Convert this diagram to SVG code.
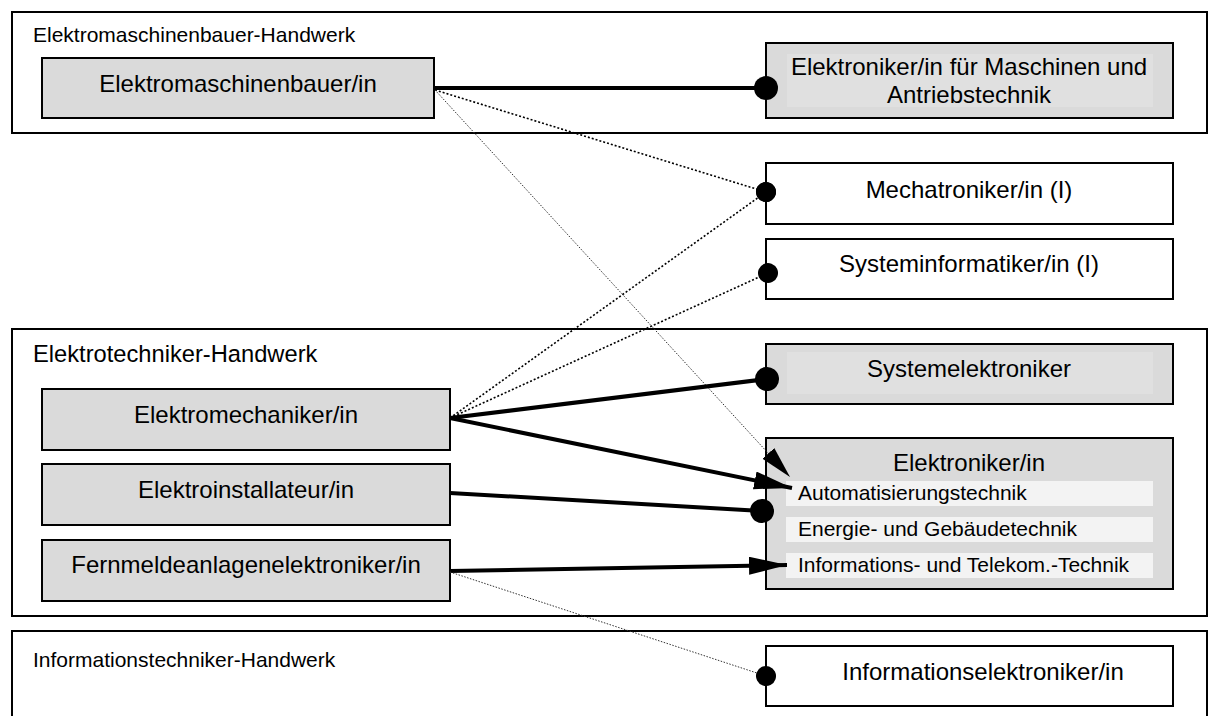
<svg xmlns="http://www.w3.org/2000/svg" width="1208" height="716" viewBox="0 0 1208 716">
<defs>
<style>
text{font-family:"Liberation Sans",Arial,sans-serif;fill:#000}
.grp{fill:#fff;stroke:#000;stroke-width:2}
.box{fill:#dadada;stroke:#000;stroke-width:2}
.wbox{fill:#fff;stroke:#000;stroke-width:2}
.inner{fill:#e0e0e0}
.row{fill:#f3f3f3}
.glabel{font-size:21px}
.glabel2{font-size:23.7px}
.t{font-size:24px;text-anchor:middle}
.s{font-size:21px}
.solid{stroke:#000;stroke-width:4;fill:none}
.dot1{stroke:#000;stroke-width:1.6;stroke-dasharray:2 2;fill:none}
.dot2{stroke:#333;stroke-width:1;stroke-dasharray:1.5 1.5;fill:none}
</style>
<marker id="dotL" markerUnits="userSpaceOnUse" markerWidth="26" markerHeight="26" refX="13" refY="13" orient="auto"><circle cx="13" cy="13" r="12" fill="#000"/></marker>
<marker id="dotS" markerUnits="userSpaceOnUse" markerWidth="22" markerHeight="22" refX="11" refY="11" orient="auto"><circle cx="11" cy="11" r="10" fill="#000"/></marker>
<marker id="arrL" markerUnits="userSpaceOnUse" markerWidth="40" markerHeight="20" refX="38" refY="9" orient="auto"><path d="M0,0 L38,9 L0,18 z" fill="#000"/></marker>
<marker id="arrS" markerUnits="userSpaceOnUse" markerWidth="34" markerHeight="18" refX="32" refY="8" orient="auto"><path d="M0,0 L32,8 L0,16 z" fill="#000"/></marker>
</defs>

<g id="group-elektromaschinenbauer-handwerk">
<rect class="grp" x="12" y="12" width="1195" height="121"/>
<text class="glabel" x="33" y="42">Elektromaschinenbauer-Handwerk</text>
</g>
<g id="group-elektrotechniker-handwerk">
<rect class="grp" x="12" y="329" width="1195" height="287"/>
<text class="glabel2" x="33" y="362">Elektrotechniker-Handwerk</text>
</g>
<g id="group-informationstechniker-handwerk">
<rect class="grp" x="12" y="631" width="1195" height="120"/>
<text class="glabel" x="33" y="667">Informationstechniker-Handwerk</text>
</g>

<g id="node-elektromaschinenbauer">
<rect class="box" x="42" y="58" width="392" height="60"/>
<text class="t" x="238" y="92">Elektromaschinenbauer/in</text>
</g>
<g id="node-elektroniker-maschinen">
<rect class="box" x="766" y="43" width="407" height="75"/>
<rect class="inner" x="787" y="54" width="366" height="53"/>
<text class="t" x="969" y="75">Elektroniker/in für Maschinen und</text>
<text class="t" x="969" y="103">Antriebstechnik</text>
</g>
<g id="node-mechatroniker">
<rect class="wbox" x="766" y="163" width="407" height="61"/>
<text class="t" x="969" y="198">Mechatroniker/in (I)</text>
</g>
<g id="node-systeminformatiker">
<rect class="wbox" x="766" y="239" width="407" height="60"/>
<text class="t" x="969" y="272">Systeminformatiker/in (I)</text>
</g>
<g id="node-systemelektroniker">
<rect class="box" x="766" y="344" width="407" height="60"/>
<rect class="inner" x="787" y="352" width="366" height="42"/>
<text class="t" x="969" y="377">Systemelektroniker</text>
</g>
<g id="node-elektroniker">
<rect class="box" x="766" y="438" width="407" height="151"/>
<text class="t" x="969" y="471">Elektroniker/in</text>
<rect class="row" x="786" y="481" width="367" height="25"/>
<text class="s" x="798" y="500">Automatisierungstechnik</text>
<rect class="row" x="786" y="517" width="367" height="25"/>
<text class="s" x="798" y="536">Energie- und Gebäudetechnik</text>
<rect class="row" x="786" y="553" width="367" height="25"/>
<text class="s" x="798" y="572">Informations- und Telekom.-Technik</text>
</g>
<g id="node-elektromechaniker">
<rect class="box" x="42" y="389" width="408" height="61"/>
<text class="t" x="246" y="423">Elektromechaniker/in</text>
</g>
<g id="node-elektroinstallateur">
<rect class="box" x="42" y="464" width="408" height="61"/>
<text class="t" x="246" y="498">Elektroinstallateur/in</text>
</g>
<g id="node-fernmeldeanlagenelektroniker">
<rect class="box" x="42" y="540" width="408" height="61"/>
<text class="t" x="246" y="573">Fernmeldeanlagenelektroniker/in</text>
</g>
<g id="node-informationselektroniker">
<rect class="wbox" x="766" y="646" width="407" height="60"/>
<text class="t" x="983" y="680">Informationselektroniker/in</text>
</g>

<g id="connectors">
<line class="solid" x1="434" y1="88" x2="766" y2="88" marker-end="url(#dotL)"/>
<line class="dot1" x1="435" y1="90" x2="766" y2="192" marker-end="url(#dotS)"/>
<line class="dot2" x1="435" y1="90" x2="790" y2="477" marker-end="url(#arrS)"/>
<line class="dot1" x1="450" y1="418" x2="766" y2="192" marker-end="url(#dotS)"/>
<line class="dot1" x1="450" y1="418" x2="768" y2="273" marker-end="url(#dotS)"/>
<line class="solid" x1="450" y1="418" x2="767" y2="379" marker-end="url(#dotL)"/>
<line class="solid" x1="450" y1="418" x2="792" y2="488" marker-end="url(#arrL)"/>
<line class="solid" x1="450" y1="493" x2="762" y2="511" marker-end="url(#dotL)"/>
<line class="solid" x1="450" y1="571" x2="787" y2="565" marker-end="url(#arrL)"/>
<line class="dot2" x1="450" y1="572" x2="766" y2="676" marker-end="url(#dotS)"/>
</g>
</svg>
